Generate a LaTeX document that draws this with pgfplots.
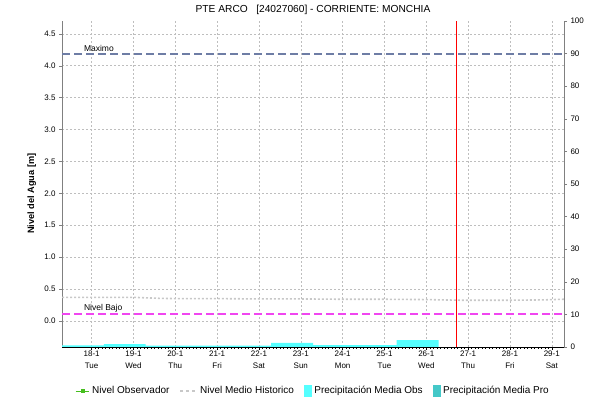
\documentclass[border=0pt]{standalone}
\usepackage{fontspec}
\setmainfont{Liberation Sans}
\usepackage{pgfplots}
\pgfplotsset{compat=1.18}
\definecolor{maxc}{RGB}{110,125,165}
\definecolor{bajoc}{RGB}{240,70,240}
\definecolor{obsc}{RGB}{85,255,255}
\definecolor{proc}{RGB}{68,200,200}
\definecolor{histc}{RGB}{200,200,200}
\definecolor{gridc}{RGB}{190,190,190}
\definecolor{axc}{RGB}{128,128,128}
\definecolor{greenc}{RGB}{70,190,30}
\pgfplotsset{
  greenleg/.style={legend image code/.code={\draw[greenc, line width=1pt] (0pt,0pt) -- (13pt,0pt); \fill[greenc] (5pt,-1.5pt) rectangle (8pt,1.5pt);}},
  histleg/.style={legend image code/.code={\draw[histc, line width=1.6pt, dash pattern=on 3pt off 3pt] (0pt,0pt) -- (16pt,0pt);}},
  obsleg/.style={legend image code/.code={\fill[obsc] (0pt,-5.5pt) rectangle (7pt,5.5pt);}},
  proleg/.style={legend image code/.code={\fill[proc] (0pt,-5.5pt) rectangle (7pt,5.5pt);}},
}
\begin{document}
\begin{tikzpicture}
\useasboundingbox (0,0) rectangle (590pt,402pt);
\begin{axis}[
  at={(62pt,55pt)}, anchor=south west,
  width=502pt, height=326pt, scale only axis,
  xmin=17.2917, xmax=29.2917, ymin=-0.408, ymax=4.70,
  axis x line*=bottom, axis y line*=left,
  x axis line style={black, -}, y axis line style={axc, -},
  tick align=outside,
  xtick={18,...,29},
  xticklabels={18-1\\Tue,19-1\\Wed,20-1\\Thu,21-1\\Fri,22-1\\Sat,23-1\\Sun,24-1\\Mon,25-1\\Tue,26-1\\Wed,27-1\\Thu,28-1\\Fri,29-1\\Sat},
  xticklabel style={align=center, font=\fontsize{8}{12}\selectfont, inner sep=1pt},
  minor x tick num=11,
  x tick style={black, line width=0.4pt},
  minor tick length=2pt, major tick length=3pt,
  ytick={0,0.5,...,4.5},
  y tick style={axc},
  yticklabel style={font=\fontsize{8}{10}\selectfont, /pgf/number format/.cd, fixed, fixed zerofill, precision=1},
  /pgf/number format/assume math mode=true,
  grid=major,
  major grid style={gridc, line width=0.5pt, dash pattern=on 2pt off 2pt},
  ylabel={Nivel del Agua [m]},
  every axis y label/.style={at={(axis description cs:-0.06,0.47)}, rotate=90, anchor=center, font=\bfseries\fontsize{9.2}{10}\selectfont},
  title={PTE ARCO\ \ \ [24027060] - CORRIENTE: MONCHIA},
  every axis title/.style={font=\fontsize{10.2}{12}\selectfont, at={(axis description cs:0.5,1)}, anchor=center, yshift=11pt},
  clip=false,
]
% historic mean
\addplot[histc, line width=1.6pt, dash pattern=on 2pt off 2pt] coordinates {
(17.2917,0.37) (18,0.37) (19,0.37) (19.6,0.355) (20,0.35) (21,0.35) (22,0.345) (23,0.345) (24,0.34) (25,0.34) (26,0.335) (26.8,0.325) (27,0.325) (28,0.325) (28.8,0.33) (29.2917,0.34)};
% Maximo
\addplot[maxc, line width=1.8pt, dash pattern=on 8pt off 4pt] coordinates {(17.2917,4.185) (29.2917,4.185)};
% Nivel bajo
\addplot[bajoc, line width=1.8pt, dash pattern=on 8pt off 4pt] coordinates {(17.2917,0.11) (29.2917,0.11)};
% current time
\addplot[red, line width=1pt] coordinates {(26.73,-0.408) (26.73,4.70)};
\node[anchor=south west, font=\fontsize{8.5}{10}\selectfont, inner sep=1pt] at (axis cs:17.79,4.20) {Maximo};
\node[anchor=south west, font=\fontsize{8.5}{10}\selectfont, inner sep=1pt] at (axis cs:17.79,0.125) {Nivel Bajo};
\end{axis}
\begin{axis}[
  at={(62pt,55pt)}, anchor=south west,
  width=502pt, height=326pt, scale only axis,
  xmin=17.2917, xmax=29.2917, ymin=0, ymax=100,
  axis x line=none, axis y line*=right,
  y axis line style={axc, -},
  tick align=outside,
  y tick style={axc},
  major tick length=3pt,
  ytick={0,10,...,100},
  yticklabel style={font=\fontsize{8}{10}\selectfont},
  /pgf/number format/assume math mode=true,
  legend style={at={(0.5,-0.135)}, anchor=center, draw=none, fill=none,
    font=\fontsize{10}{12}\selectfont, legend columns=4,
    /tikz/every odd column/.append style={column sep=1pt},
    /tikz/every even column/.append style={column sep=8pt}},
  legend cell align=left,
]
\addplot[const plot, fill=obsc, draw=none, forget plot] coordinates {
(17.2917,0.5) (18.2917,0.9) (19.2917,0.4) (20.2917,0.4) (21.2917,0.45) (22.2917,1.3) (23.2917,0.55) (24.2917,0.55) (25.2917,2.1) (26.2917,2.1)} \closedcycle;
\addlegendimage{greenleg}
\addlegendentry{Nivel Observador}
\addlegendimage{histleg}
\addlegendentry{Nivel Medio Historico}
\addlegendimage{obsleg}
\addlegendentry{Precipitación Media Obs}
\addlegendimage{proleg}
\addlegendentry{Precipitación Media Pro}
\end{axis}
\end{tikzpicture}
\end{document}
